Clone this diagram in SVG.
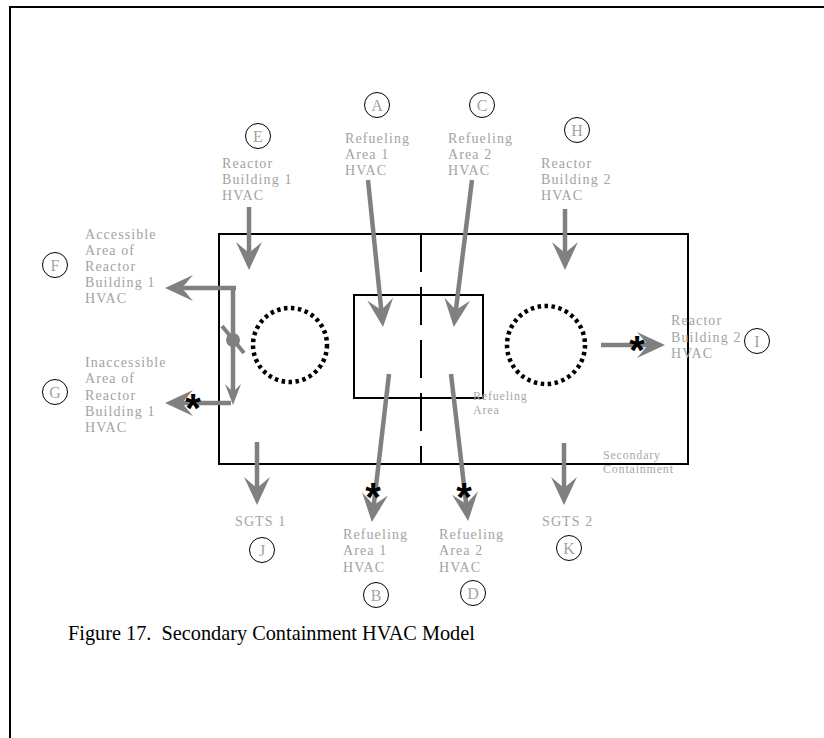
<svg xmlns="http://www.w3.org/2000/svg" width="824" height="738" viewBox="0 0 824 738">
<style>
.t{font-family:"Liberation Serif","Times New Roman",serif;font-size:14px;letter-spacing:1.1px;fill:#a3a3a3}
.ts{font-family:"Liberation Serif","Times New Roman",serif;font-size:12px;letter-spacing:0.8px;fill:#a8a8a8}
.lc{font-family:"Liberation Serif","Times New Roman",serif;font-size:16px;fill:#a3a3a3;text-anchor:middle}
.c{fill:none;stroke:#000;stroke-width:1}
.ar{stroke:#808080;stroke-width:4.5;fill:none}
.ast{font-family:"Liberation Sans",Arial,sans-serif;font-weight:bold;font-size:40px;fill:#000;text-anchor:middle}
.box{fill:none;stroke:#000;stroke-width:2}
.dot{fill:none;stroke:#000;stroke-width:4.5;stroke-dasharray:3.5 3.5}
</style>
<defs>
<marker id="ah" markerUnits="userSpaceOnUse" viewBox="-30 -15 32 30" refX="-10" refY="0" markerWidth="32" markerHeight="30" orient="auto">
<path d="M0,0 L-28,-13 L-17,0 L-28,13 Z" fill="#808080"/>
</marker>
<marker id="ahs" markerUnits="userSpaceOnUse" viewBox="-22 -10 24 20" refX="-8" refY="0" markerWidth="24" markerHeight="20" orient="auto">
<path d="M0,0 L-21,-8 L-13,0 L-21,8 Z" fill="#808080"/>
</marker>
</defs>
<rect x="10" y="7" width="830" height="745" fill="none" stroke="#000" stroke-width="2"/>
<g id="containment">
<rect class="box" x="219" y="234" width="469" height="230"/>
<line x1="421" y1="234" x2="421" y2="464" stroke="#000" stroke-width="2" stroke-dasharray="38 15"/>
<text class="ts" x="603" y="459">Secondary</text>
<text class="ts" x="603" y="473">Containment</text>
</g>
<g id="refueling-area">
<rect class="box" x="354" y="295" width="129" height="103"/>
<text class="ts" x="473" y="400">Refueling</text>
<text class="ts" x="473" y="414">Area</text>
</g>
<g id="reactor1"><circle class="dot" cx="290" cy="345" r="37"/></g>
<g id="reactor2"><circle class="dot" cx="546" cy="345" r="39"/></g>
<g id="damper">
<circle cx="233" cy="340" r="7" fill="#808080"/>
<line x1="222" y1="326" x2="244" y2="353" stroke="#808080" stroke-width="4"/>
</g>
<g id="node-E">
<circle class="c" cx="258" cy="136" r="12.5"/><text class="lc" x="258" y="142">E</text>
<text class="t" x="222" y="168">Reactor</text><text class="t" x="222" y="184">Building 1</text><text class="t" x="222" y="200">HVAC</text>
</g>
<g id="node-A">
<circle class="c" cx="377" cy="105" r="12.5"/><text class="lc" x="377" y="111">A</text>
<text class="t" x="345" y="143">Refueling</text><text class="t" x="345" y="159">Area 1</text><text class="t" x="345" y="175">HVAC</text>
</g>
<g id="node-C">
<circle class="c" cx="482" cy="105" r="12.5"/><text class="lc" x="482" y="111">C</text>
<text class="t" x="448" y="143">Refueling</text><text class="t" x="448" y="159">Area 2</text><text class="t" x="448" y="175">HVAC</text>
</g>
<g id="node-H">
<circle class="c" cx="577" cy="130" r="12.5"/><text class="lc" x="577" y="136">H</text>
<text class="t" x="541" y="168">Reactor</text><text class="t" x="541" y="184">Building 2</text><text class="t" x="541" y="200">HVAC</text>
</g>
<g id="node-F">
<circle class="c" cx="55" cy="265" r="12.5"/><text class="lc" x="55" y="271">F</text>
<text class="t" x="85" y="239">Accessible</text><text class="t" x="85" y="255">Area of</text><text class="t" x="85" y="271">Reactor</text><text class="t" x="85" y="287">Building 1</text><text class="t" x="85" y="303">HVAC</text>
</g>
<g id="node-G">
<circle class="c" cx="55" cy="392" r="12.5"/><text class="lc" x="55" y="398">G</text>
<text class="t" x="85" y="367">Inaccessible</text><text class="t" x="85" y="383">Area of</text><text class="t" x="85" y="400">Reactor</text><text class="t" x="85" y="416">Building 1</text><text class="t" x="85" y="432">HVAC</text>
</g>
<g id="node-I">
<text class="t" x="671" y="325">Reactor</text><text class="t" x="671" y="342">Building 2</text><text class="t" x="671" y="358">HVAC</text>
<circle class="c" cx="757" cy="341" r="12.5"/><text class="lc" x="757" y="347">I</text>
</g>
<g id="node-J">
<text class="t" x="235" y="526">SGTS 1</text>
<circle class="c" cx="262" cy="550" r="12.5"/><text class="lc" x="262" y="556">J</text>
</g>
<g id="node-B">
<text class="t" x="343" y="539">Refueling</text><text class="t" x="343" y="555">Area 1</text><text class="t" x="343" y="572">HVAC</text>
<circle class="c" cx="376" cy="595" r="12.5"/><text class="lc" x="376" y="601">B</text>
</g>
<g id="node-D">
<text class="t" x="439" y="539">Refueling</text><text class="t" x="439" y="555">Area 2</text><text class="t" x="439" y="572">HVAC</text>
<circle class="c" cx="473" cy="593" r="12.5"/><text class="lc" x="473" y="599">D</text>
</g>
<g id="node-K">
<text class="t" x="542" y="526">SGTS 2</text>
<circle class="c" cx="569" cy="548" r="12.5"/><text class="lc" x="569" y="554">K</text>
</g>
<g id="connectors">
<line class="ar" x1="249" y1="207" x2="249" y2="260" marker-end="url(#ah)"/>
<line class="ar" x1="565" y1="209" x2="565" y2="260" marker-end="url(#ah)"/>
<line class="ar" x1="368" y1="180" x2="382" y2="317" marker-end="url(#ah)"/>
<line class="ar" x1="472" y1="180" x2="455" y2="317" marker-end="url(#ah)"/>
<line class="ar" x1="389" y1="374" x2="373" y2="512" marker-end="url(#ah)"/>
<line class="ar" x1="451" y1="374" x2="467" y2="511" marker-end="url(#ah)"/>
<line class="ar" x1="257" y1="442" x2="257" y2="495" marker-end="url(#ah)"/>
<line class="ar" x1="564" y1="443" x2="564" y2="495" marker-end="url(#ah)"/>
<line class="ar" x1="236" y1="288" x2="175" y2="288" marker-end="url(#ah)"/>
<line class="ar" x1="233" y1="286" x2="233" y2="397" marker-end="url(#ahs)"/>
<line class="ar" x1="231" y1="403" x2="175" y2="403" marker-end="url(#ah)"/>
<line class="ar" x1="601" y1="345" x2="655" y2="345" marker-end="url(#ah)"/>
<text class="ast" x="193" y="422">*</text>
<text class="ast" x="373" y="511">*</text>
<text class="ast" x="464" y="511">*</text>
<text class="ast" x="637" y="364">*</text>
</g>
<text x="68" y="640" font-family="Liberation Serif,'Times New Roman',serif" font-size="20.3" fill="#000" style="white-space:pre" xml:space="preserve">Figure 17.  Secondary Containment HVAC Model</text>
</svg>
